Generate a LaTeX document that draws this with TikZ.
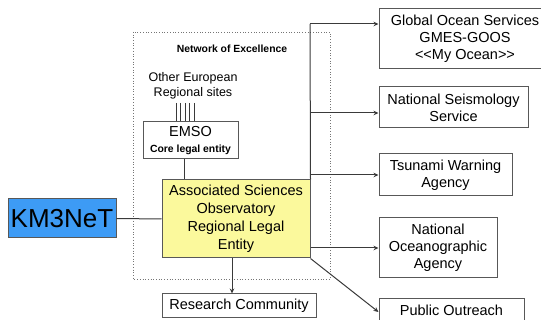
\documentclass[tikz,border=0pt]{standalone}
\usepackage{fontspec}
\setmainfont{Liberation Sans}
\usetikzlibrary{arrows.meta}
\definecolor{kmblue}{HTML}{3D9BF5}
\definecolor{asyellow}{HTML}{FBF99C}
\definecolor{linegray}{HTML}{3A3A3A}
\begin{document}
\begin{tikzpicture}[x=1pt,y=-1pt,
  box/.style={draw=linegray!85,line width=1pt,inner sep=0pt,align=center,
    font=\fontsize{14.5}{17}\selectfont,text=black},
  conn/.style={draw=linegray,line width=1pt},
  arr/.style={conn,-{Stealth[length=5pt,width=4.5pt]}}]
\useasboundingbox (0,0) rectangle (541,320);
% dotted network box
\draw[linegray!70,dotted,line width=0.7pt] (133,32) rectangle (330,279);
\node[font=\bfseries\fontsize{10.4}{12}\selectfont] (noe) at (232,49) {Network of Excellence};
\node[font=\fontsize{12.5}{15}\selectfont,align=center] (other) at (193,86) {Other European\\Regional sites};
% boxes
\node[box,fill=kmblue,minimum width=108,minimum height=39,font=\fontsize{26}{30}\selectfont] (km) at (62,218.5) {KM3NeT};
\node[box,fill=asyellow,minimum width=148,minimum height=78,font=\fontsize{14.5}{18}\selectfont] (ye) at (236,219) {Associated Sciences\\Observatory\\Regional Legal\\Entity};
\node[box,minimum width=95,minimum height=37] (emso) at (190.5,140.5) {EMSO\\[-1pt]{\bfseries\fontsize{10.4}{12}\selectfont Core legal entity}};
\node[box,minimum width=154,minimum height=24] (rc) at (239,306) {Research Community};
\node[box,minimum width=172,minimum height=60] (gos) at (465,39) {Global Ocean Services\\GMES-GOOS\\<{}<My Ocean>{}>};
\node[box,minimum width=149,minimum height=41] (nss) at (453.5,107.5) {National Seismology\\Service};
\node[box,minimum width=133,minimum height=42] (twa) at (445.5,175) {Tsunami Warning\\Agency};
\node[box,minimum width=118,minimum height=60] (noa) at (438,248) {National\\Oceanographic\\Agency};
\node[box,minimum width=145,minimum height=40,anchor=north] (po) at (451.5,298) {Public Outreach\\ };
% other european sites lines
\foreach \i/\x in {1/176,2/180.5,3/185,4/189.5,5/194}{
  \coordinate (o\i) at (\x,103);
  \draw[conn,line width=0.6pt] (o\i) -- (o\i |- emso.north);
}
% connectors
\draw[conn] (km.east) -- (ye.west);
\draw[conn] ([xshift=-6.5pt]emso.south) -- ([xshift=-6.5pt]emso.south |- ye.north);
\draw[arr] ([xshift=-4pt]ye.south) -- ([xshift=-4pt]ye.south |- rc.north);
\coordinate (bustop) at (310,24);
\draw[conn] (ye.north east) -- (bustop);
\draw[arr] (bustop) -- (bustop -| gos.west);
\draw[arr] (bustop |- 0,113) -- (nss.west |- 0,113);
\draw[arr] (bustop |- twa.west) -- (twa.west);
\draw[arr] (ye.east |- noa.west) -- (noa.west);
\draw[arr] (ye.south east) -- (po.west |- 0,312);
\end{tikzpicture}
\end{document}
